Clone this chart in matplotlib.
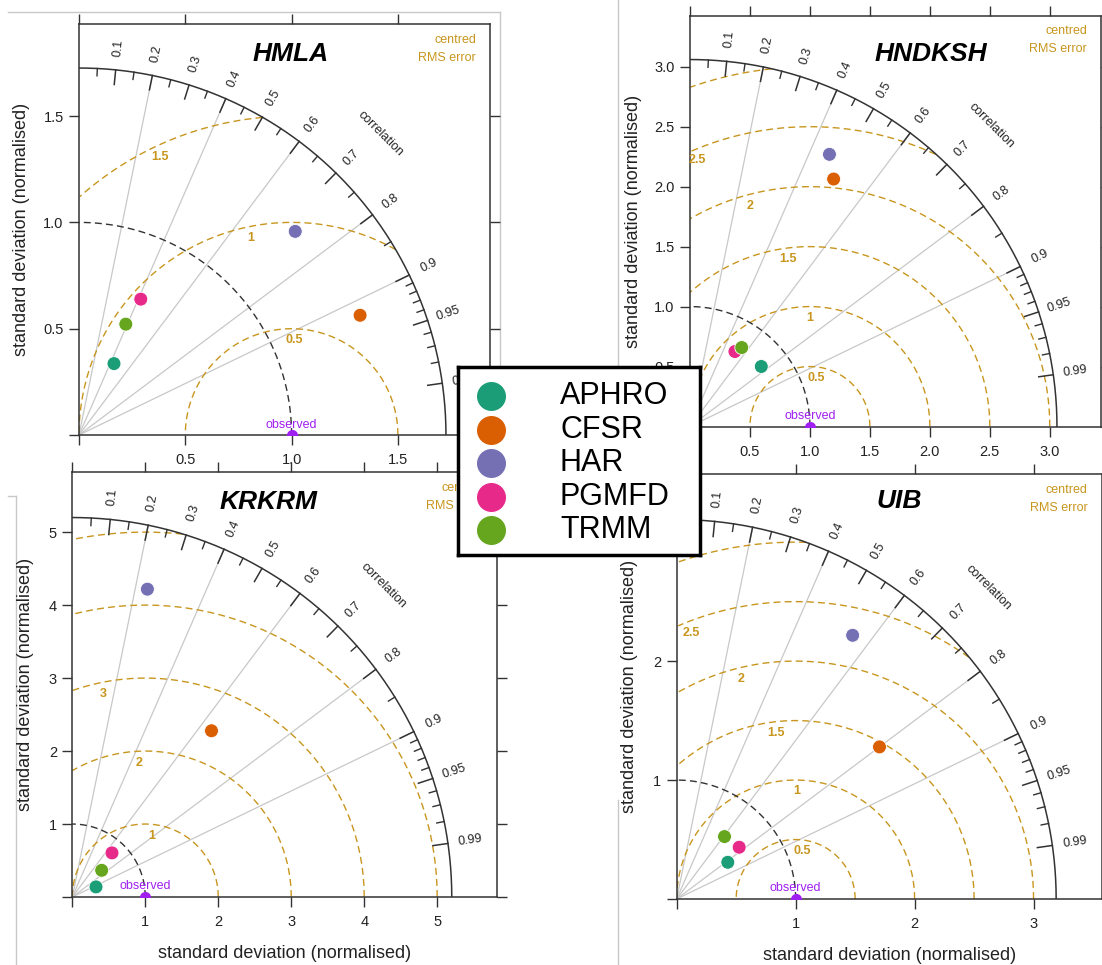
import numpy as np
import matplotlib
matplotlib.use("Agg")
import matplotlib.pyplot as plt
from matplotlib.lines import Line2D

plt.rcParams['font.family'] = ['Liberation Sans', 'DejaVu Sans']

W, H = 1102, 965

models = ["APHRO", "CFSR", "HAR", "PGMFD", "TRMM"]
model_colors = ["#1B9E77", "#D95F02", "#7570B3", "#E7298A", "#66A61E"]

sites = ["HMLA", "HNDKSH", "KRKRM", "UIB"]

# normalised standard deviation and correlation of each model, per site
sd_hmla = [0.374, 1.437, 1.397, 0.702, 0.566]
cor_hmla = [0.44, 0.92, 0.728, 0.414, 0.389]
sd_hndksh = [0.777, 2.386, 2.550, 0.729, 0.787]
cor_hndksh = [0.765, 0.502, 0.456, 0.514, 0.548]
sd_krkrm = [0.353, 2.971, 4.342, 0.813, 0.544]
cor_krkrm = [0.92, 0.642, 0.237, 0.669, 0.740]
sd_uib = [0.529, 2.131, 2.665, 0.682, 0.661]
cor_uib = [0.812, 0.800, 0.555, 0.770, 0.608]

sd_all = [sd_hmla, sd_hndksh, sd_krkrm, sd_uib]
cor_all = [cor_hmla, cor_hndksh, cor_krkrm, cor_uib]

max_sd = [1.726, 3.06, 5.2, 3.19]
rms_levels = [[0.5, 1.0, 1.5],
              [0.5, 1.0, 1.5, 2.0, 2.5, 3.0],
              [1, 2, 3, 4, 5],
              [0.5, 1.0, 1.5, 2.0, 2.5, 3.0]]
sd_ticks = [[0, 0.5, 1.0, 1.5],
            [0, 0.5, 1.0, 1.5, 2.0, 2.5, 3.0],
            [0, 1, 2, 3, 4, 5],
            [0, 1, 2, 3]]
tick_fmt = ["{:.1f}", "{:.1f}", "{:g}", "{:g}"]

cor_major = [0.1, 0.2, 0.3, 0.4, 0.5, 0.6, 0.7, 0.8, 0.9, 0.95, 0.99]
cor_minor = [0.05, 0.15, 0.25, 0.35, 0.45, 0.55, 0.65, 0.75, 0.85,
             0.91, 0.92, 0.93, 0.94, 0.96, 0.97, 0.98]
cor_lines = [0.2, 0.4, 0.6, 0.8, 0.9]

# panel boxes in pixels: left, top, size ; title centre ; x label shown
boxes = [(79, 24, 411), (690, 15.5, 411), (72.3, 472, 425), (676.7, 474, 425)]
title_pos = [(291, 54), (931, 54), (269, 502), (899.5, 501)]
show_xlabel = [False, False, True, True]

RMS_COL = "#C8961E"
AX_COL = "#333333"
OBS_COL = "#A020F0"


def fx(x):
    return x / W


def fy(y):
    return 1 - y / H


def draw_taylor(ax, i):
    m = max_sd[i]
    lim = 1.12 * m
    ax.set_xlim(0, lim)
    ax.set_ylim(0, lim)

    t = np.linspace(0, np.pi / 2, 300)
    # outer sd arc and sd = 1 arc
    ax.plot(m * np.cos(t), m * np.sin(t), color=AX_COL, lw=1.1, zorder=3)
    ax.plot(np.cos(t), np.sin(t), color=AX_COL, lw=1.0, ls=(0, (5, 3)), zorder=3)

    # correlation lines
    for c in cor_lines:
        a = np.arccos(c)
        ax.plot([0, m * np.cos(a)], [0, m * np.sin(a)], color="#C8C8C8", lw=0.9, zorder=1)

    # ticks on the arc
    for c in cor_major:
        a = np.arccos(c)
        ax.plot([0.96 * m * np.cos(a), m * np.cos(a)], [0.96 * m * np.sin(a), m * np.sin(a)],
                color=AX_COL, lw=1.1, zorder=3)
        r = 1.06 * m
        ax.text(r * np.cos(a), r * np.sin(a), f"{c:g}", rotation=np.degrees(a),
                ha="center", va="center", fontsize=9, color="#222222", rotation_mode="anchor")
    for c in cor_minor:
        a = np.arccos(c)
        ax.plot([0.98 * m * np.cos(a), m * np.cos(a)], [0.98 * m * np.sin(a), m * np.sin(a)],
                color=AX_COL, lw=1.0, zorder=3)
    r = 1.16 * m
    ax.text(r * np.cos(np.pi / 4), r * np.sin(np.pi / 4), "correlation", rotation=-45,
            ha="center", va="center", fontsize=9, color="#222222", rotation_mode="anchor")

    # centred RMS error circles around the observed point
    tt = np.linspace(0, np.pi, 600)
    for lev in rms_levels[i]:
        xs = 1 + lev * np.cos(tt)
        ys = lev * np.sin(tt)
        ok = (xs >= 0) & (xs ** 2 + ys ** 2 <= m ** 2)
        ax.plot(np.where(ok, xs, np.nan), np.where(ok, ys, np.nan), color=RMS_COL,
                lw=1.0, ls=(0, (5, 3)), zorder=2)
        ang = np.radians(74.5 + 47 * lev / m)
        rr = lev - 0.03 * m
        lx, ly = 1 + rr * np.cos(ang), rr * np.sin(ang)
        if lx > 0:
            ax.text(lx, ly, f"{lev:g}", color=RMS_COL, fontsize=9, fontweight="bold",
                    ha="center", va="center", zorder=4)

    ax.text(1 - 14 / boxes[i][2], 1 - 16 / boxes[i][2], "centred", transform=ax.transAxes,
            ha="right", va="center", color=RMS_COL, fontsize=9)
    ax.text(1 - 14 / boxes[i][2], 1 - 34 / boxes[i][2], "RMS error", transform=ax.transAxes,
            ha="right", va="center", color=RMS_COL, fontsize=9)

    # observed point
    ax.plot([1], [0], "o", color=OBS_COL, ms=7, zorder=5, clip_on=True)
    ax.text(1, 0.028 * m, "observed", color=OBS_COL, fontsize=9, ha="center", va="center", zorder=5)

    # models
    sd = np.array(sd_all[i])
    cr = np.array(cor_all[i])
    ax.scatter(sd * cr, sd * np.sqrt(1 - cr ** 2), s=100, c=model_colors,
               edgecolors="white", linewidths=0.6, zorder=6)

    # axes frame and ticks
    tks = sd_ticks[i]
    labs = ["" if v == 0 else tick_fmt[i].format(v) for v in tks]
    ax.set_xticks(tks)
    ax.set_yticks(tks)
    ax.set_xticklabels(labs)
    ax.set_yticklabels(labs)
    ax.tick_params(direction="out", length=7, width=1, colors=AX_COL, labelcolor="#222222",
                   top=True, right=True, labelsize=10.5)
    ax.tick_params(axis="x", pad=6)
    ax.tick_params(axis="y", pad=4)
    for sp in ax.spines.values():
        sp.set_color(AX_COL)
        sp.set_linewidth(1.1)

    size = boxes[i][2]
    ax.set_ylabel("standard deviation (normalised)", fontsize=13, color="#222222")
    off = 57 if i < 2 else 47
    ax.yaxis.set_label_coords(-off / size, 0.5)
    ax.yaxis.label.set_va("center")
    if show_xlabel[i]:
        ax.set_xlabel("standard deviation (normalised)", fontsize=13, color="#222222")
        ax.xaxis.set_label_coords(0.5, -56 / size)
        ax.xaxis.label.set_va("center")


fig = plt.figure(figsize=(W / 100, H / 100), dpi=100)

# borders of the pasted pictures
for (x0, y0, x1, y1) in [(8, 12, 500, 12), (500, 12, 500, 470), (618, 0, 618, 440),
                         (16, 496, 16, 965), (8, 496, 16, 496), (618, 800, 618, 965)]:
    fig.add_artist(Line2D([fx(x0), fx(x1)], [fy(y0), fy(y1)], color="#C8C8C8", lw=1,
                          transform=fig.transFigure, zorder=-1))

for i, site in enumerate(sites):
    left, top, size = boxes[i]
    ax = fig.add_axes([fx(left), fy(top + size), size / W, size / H])
    ax.set_facecolor("white")
    draw_taylor(ax, i)
    fig.text(fx(title_pos[i][0]), fy(title_pos[i][1]), site, ha="center", va="center",
             fontsize=19, fontweight="bold", fontstyle="italic")

# legend box in the middle
lx0, ly0, lx1, ly1 = 458, 367, 700, 555
lax = fig.add_axes([fx(lx0), fy(ly1), (lx1 - lx0) / W, (ly1 - ly0) / H])
lax.set_zorder(5)
lax.set_xlim(lx0, lx1)
lax.set_ylim(ly1, ly0)
lax.set_xticks([])
lax.set_yticks([])
for sp in lax.spines.values():
    sp.set_linewidth(2.5)
    sp.set_color("black")
for k, (name, col) in enumerate(zip(models, model_colors)):
    yy = 396 + 33.5 * k
    lax.scatter([491], [yy], s=470, color=col, edgecolors="white", linewidths=0.8)
    lax.text(560, yy, name, fontsize=22, ha="left", va="center")

fig.savefig("out.png", dpi=100)
